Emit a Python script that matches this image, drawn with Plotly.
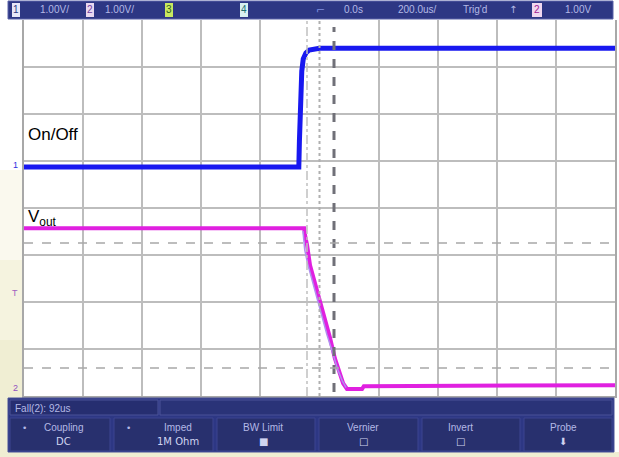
import plotly.graph_objects as go

# ---------------- data ----------------
# time in microseconds (200 us/div), voltages in volts (1 V/div)
t_onoff = [-1000, -70, -68, -66, -63, -60, -55, -46, -35, -15, 0, 1000]
v_onoff = [0.0, 0.0, 0.55, 1.19, 1.72, 2.04, 2.30, 2.43, 2.49, 2.52, 2.53, 2.53]

t_vout = [-1000, -52, -49, -42, -32, -15, 2, 19, 36, 52, 66, 80, 93, 144, 150, 1000]
v_vout = [3.51, 3.51, 3.36, 3.15, 2.72, 2.34, 1.98, 1.60, 1.17, 0.74, 0.45, 0.21, 0.09, 0.09, 0.15, 0.17]

t_aux = [-56, -50, -40, -25, -10, 8, 25, 45, 62, 78, 90]
v_aux = [3.45, 3.05, 2.75, 2.40, 2.05, 1.65, 1.25, 0.85, 0.50, 0.25, 0.12]

ch1_offset_div = 0.87
ch2_offset_div = -3.94

top_left_labels = ["1.00V/", "1.00V/"]
top_right_labels = ["0.0s", "200.0us/", "Trig'd", "1.00V"]
softkeys = [("Coupling", "DC"), ("Imped", "1M Ohm"), ("BW Limit", "■"),
            ("Vernier", "□"), ("Invert", "□"), ("Probe", "⬇")]
meas_text = "Fall(2): 92us"

# ---------------- layout helpers ----------------
W, H = 619, 457
L, R, T, B = 24, 4, 20, 61
PW, PH = W - L - R, H - T - B


def px(x):
    return (x - L) / PW


def py(y):
    return (H - B - y) / PH


fig = go.Figure()

navy = "#2d3784"
txtc = "#b4b9e6"

shapes = []
ann = []


def text(x, y, s, size=10, color=txtc, family="Liberation Sans", xanchor="center"):
    ann.append(dict(x=px(x), y=py(y), xref="paper", yref="paper", text=s, showarrow=False,
                    xanchor=xanchor, yanchor="middle",
                    font=dict(size=size, color=color, family=family)))


for y0, y1, c in [(170, 260, "#faf9ee"), (260, 340, "#f5f3df"), (340, 457, "#f0eed3")]:
    shapes.append(dict(type="rect", xref="paper", yref="paper", x0=px(0), x1=px(L - 1),
                       y0=py(y1), y1=py(y0), fillcolor=c, line=dict(width=0), layer="below"))
shapes.append(dict(type="rect", xref="paper", yref="paper", x0=px(0), x1=px(W),
                   y0=py(457), y1=py(452), fillcolor="#f0eed3", line=dict(width=0), layer="below"))


def vline(xpx, color, dash, width, y0=20, y1=396):
    shapes.append(dict(type="line", xref="paper", yref="paper", x0=px(xpx), x1=px(xpx),
                       y0=py(y1), y1=py(y0), line=dict(color=color, dash=dash, width=width)))


def hline(ypx, color, dash, width):
    shapes.append(dict(type="line", xref="paper", yref="paper", x0=px(24), x1=px(615),
                       y0=py(ypx), y1=py(ypx), line=dict(color=color, dash=dash, width=width)))


vline(319.5, "#b0b0b0", "dot", 2)
vline(307, "#c0c0c0", "dashdot", 1.5)
vline(334, "#707078", "dash", 3, 27, 392)
hline(243, "#a8a8a8", "dash", 1.5)
hline(368, "#a8a8a8", "dash", 1.5)

# top bar
shapes.append(dict(type="rect", xref="paper", yref="paper", x0=px(0), x1=px(W),
                   y0=py(20), y1=py(0), fillcolor="#ffffff", line=dict(width=0)))
shapes.append(dict(type="rect", xref="paper", yref="paper", x0=px(8), x1=px(613),
                   y0=py(19), y1=py(1), fillcolor=navy, line=dict(color="#5a63a8", width=1)))
boxes = [(12, 20, "#e8e8f8", "1", "#2d3784"), (86, 94, "#e8d8f0", "2", "#7040a0"),
         (165, 173, "#c8e860", "3", "#2d6020"), (240, 248, "#d8f0f0", "4", "#207070"),
         (532, 542, "#f0d8f0", "2", "#a02090")]
for x0, x1, fc, lab, tc in boxes:
    shapes.append(dict(type="rect", xref="paper", yref="paper", x0=px(x0), x1=px(x1),
                       y0=py(17), y1=py(3), fillcolor=fc, line=dict(width=0)))
    text((x0 + x1) / 2, 10, lab, size=10, color=tc)
for xc, lab in [(54, top_left_labels[0]), (120, top_left_labels[1]),
                (353, top_right_labels[0]), (417, top_right_labels[1]),
                (475, top_right_labels[2]), (578, top_right_labels[3])]:
    text(xc, 10, lab)
text(513, 10, "↑", family="DejaVu Sans")
text(320, 11, "⌐", size=11, color="#8090e0", family="DejaVu Sans")

# bottom panel
shapes.append(dict(type="rect", xref="paper", yref="paper", x0=px(8), x1=px(614),
                   y0=py(452), y1=py(398), fillcolor=navy, line=dict(color="#4a5298", width=1)))
shapes.append(dict(type="rect", xref="paper", yref="paper", x0=px(10), x1=px(158),
                   y0=py(415), y1=py(400), fillcolor="#262e70", line=dict(color="#4a5298", width=1)))
shapes.append(dict(type="rect", xref="paper", yref="paper", x0=px(160), x1=px(612),
                   y0=py(415), y1=py(400), fillcolor="#2a3378", line=dict(color="#4a5298", width=1)))
text(13, 408, meas_text, xanchor="left")
keys = [(10, 110), (114, 213), (217, 315), (319, 418), (422, 520), (524, 612)]
centers = [63, 178, 263, 363, 460, 563]
for (x0, x1), xc, (l1, l2) in zip(keys, centers, softkeys):
    shapes.append(dict(type="rect", xref="paper", yref="paper", x0=px(x0), x1=px(x1),
                       y0=py(451), y1=py(418), fillcolor="#28306e", line=dict(color="#3c4590", width=1)))
    text(xc, 428, l1)
    text(xc, 441, l2, color="#d0d4f0", family="DejaVu Sans")
    if l1 in ("Coupling", "Imped"):
        text(x0 + 14, 428, "•", size=9, family="DejaVu Sans")

# channel ground markers
for ypx, lab, c in [(165, "1", "#3030e0"), (293, "T", "#a060c0"), (388, "2", "#9050c0")]:
    text(15, ypx, lab, size=9, color=c)

# trace labels
text(26, 134, "On/Off", size=17, color="#000000", xanchor="left")
text(26, 218, "V<sub>out</sub>", size=17, color="#000000", xanchor="left")

# traces
fig.add_trace(go.Scatter(x=t_onoff, y=[v + ch1_offset_div for v in v_onoff], mode="lines",
                         line=dict(color="#1818f0", width=5), hoverinfo="skip"))
fig.add_trace(go.Scatter(x=t_vout, y=[v + ch2_offset_div for v in v_vout], mode="lines",
                         line=dict(color="#e020e0", width=4), hoverinfo="skip"))
fig.add_trace(go.Scatter(x=t_aux, y=[v + ch2_offset_div for v in v_aux], mode="lines",
                         line=dict(color="#b090f0", width=1.5), hoverinfo="skip"))

xt = [v for v in range(-1000, 1001, 200) if v != 0]
fig.update_layout(
    width=W, height=H, margin=dict(l=L, r=R, t=T, b=B, autoexpand=False),
    paper_bgcolor="#ffffff", plot_bgcolor="#ffffff", showlegend=False,
    shapes=shapes, annotations=ann,
    xaxis=dict(range=[-1000, 1000], tickvals=xt, showticklabels=False, ticks="",
               showgrid=True, gridcolor="#bdbdbd", gridwidth=2, zeroline=False,
               showline=True, linecolor="#a8a8a8", linewidth=2, mirror=True, fixedrange=True),
    yaxis=dict(range=[-4, 4], dtick=1, showticklabels=False, ticks="",
               showgrid=True, gridcolor="#bdbdbd", gridwidth=2, zeroline=False,
               showline=True, linecolor="#a8a8a8", linewidth=2, mirror=True, fixedrange=True),
)

fig.write_html("out.html", config={"displayModeBar": False},
               post_script="document.body.style.margin='0';document.body.style.overflow='hidden';")
